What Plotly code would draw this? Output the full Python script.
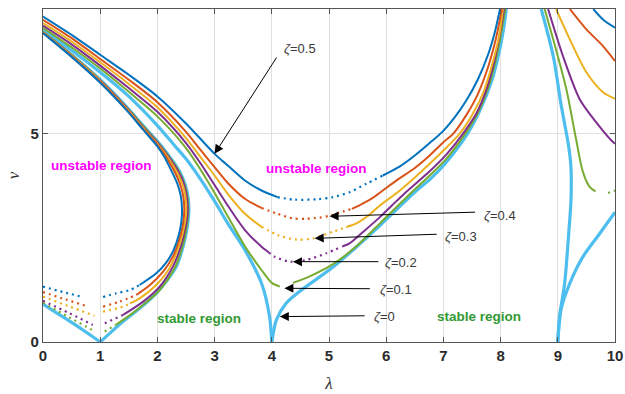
import plotly.graph_objects as go

# ---------------- colours (one per damping ratio) ----------------
C05, C04, C03, C02, C01, C00 = "#0072BD", "#D95319", "#EDB120", "#7E2F8E", "#77AC30", "#4DBEEE"

# ---------------- zeta = 0 (undamped transition curves) ----------------
z00_b1_lam = [0, 0.25, 0.5, 0.75, 1]
z00_b1_nu = [0.91, 0.69, 0.47, 0.24, 0]
z00_a1_lam = [1, 1.2, 1.4, 1.7, 1.98, 2.18, 2.33, 2.45, 2.52, 2.55, 2.52, 2.44, 2.32, 2.16, 2.0, 1.75, 1.46, 1.0, 0.5, 0]
z00_a1_nu = [0, 0.25, 0.49, 0.82, 1.17, 1.5, 1.81, 2.3, 2.75, 3.2, 3.6, 3.95, 4.25, 4.55, 4.82, 5.2, 5.65, 6.3, 6.9, 7.46]
z00_b2_lam = [4, 3.96, 3.82, 3.53, 3.23, 2.97, 2.7, 2.5, 2.3, 2.0, 1.5, 1.0, 0.5, 0]
z00_b2_nu = [0, 0.62, 1.41, 2.21, 2.85, 3.45, 4.02, 4.4, 4.72, 5.2, 5.9, 6.48, 7.01, 7.5]
z00_a2_lam = [4, 4.08, 4.25, 4.49, 5.07, 5.89, 6.53, 6.76, 7.05, 7.42, 7.65, 7.85, 7.98, 8.06, 8.1]
z00_a2_nu = [0, 0.53, 0.93, 1.22, 1.8, 2.8, 3.64, 3.9, 4.32, 5.0, 5.6, 6.3, 7.0, 7.6, 8.0]
z00_b3_lam = [9, 9.03, 9.12, 9.19, 9.23, 9.23, 9.19, 9.06, 8.92, 8.71]
z00_b3_nu = [0, 0.61, 1.41, 2.6, 3.4, 4.2, 4.7, 5.68, 6.87, 8.0]
z00_a3_lam = [9, 9.06, 9.21, 9.44, 9.73, 10]
z00_a3_nu = [0, 0.8, 1.41, 2.05, 2.6, 3.12]

# ---------------- zeta = 0.1 ----------------
z01_t1L_lam = [0, 0.45, 0.87]
z01_t1L_nu = [0.94, 0.6, 0.28]
z01_t1Rd_lam = [1.08, 1.28]
z01_t1Rd_nu = [0.25, 0.42]
z01_t1R_lam = [1.28, 1.4, 1.75, 2.04, 2.3, 2.44, 2.51, 2.54, 2.51, 2.43, 2.31, 2.15, 2.0, 1.75, 1.46, 1.0, 0.5, 0]
z01_t1R_nu = [0.42, 0.53, 0.89, 1.25, 1.77, 2.3, 2.75, 3.2, 3.6, 3.95, 4.25, 4.55, 4.81, 5.19, 5.64, 6.29, 6.9, 7.45]
z01_t2L_lam = [0, 0.5, 1, 1.5, 2, 2.5, 2.75, 3.0, 3.23, 3.53, 3.82, 4.0, 4.14]
z01_t2L_nu = [7.55, 7.08, 6.57, 6.01, 5.42, 4.66, 4.15, 3.58, 3.02, 2.3, 1.73, 1.42, 1.33]
z01_t2R_lam = [4.37, 4.49, 4.7, 5.07, 5.48, 5.89, 6.41, 6.76, 7.05, 7.38, 7.6, 7.78, 7.92, 8.02, 8.08]
z01_t2R_nu = [1.42, 1.48, 1.6, 1.87, 2.3, 2.85, 3.55, 4.0, 4.4, 5.0, 5.5, 6.1, 6.8, 7.5, 8.0]
z01_t3_lam = [8.77, 9.0, 9.15, 9.32, 9.44, 9.56, 9.66]
z01_t3_nu = [8.0, 6.87, 6.07, 4.87, 4.08, 3.72, 3.62]
z01_t3d_lam = [9.88, 10]
z01_t3d_nu = [3.58, 3.64]

# ---------------- zeta = 0.2 ----------------
z02_t1L_lam = [0, 0.45, 0.87]
z02_t1L_nu = [0.99, 0.7, 0.41]
z02_t1Rd_lam = [1.08, 1.4]
z02_t1Rd_nu = [0.45, 0.65]
z02_t1R_lam = [1.4, 1.75, 2.04, 2.27, 2.41, 2.49, 2.53, 2.51, 2.45, 2.35, 2.22, 2.1, 2.0, 1.75, 1.46, 1.0, 0.5, 0]
z02_t1R_nu = [0.65, 0.97, 1.33, 1.81, 2.3, 2.75, 3.15, 3.52, 3.85, 4.13, 4.4, 4.62, 4.79, 5.17, 5.63, 6.28, 6.89, 7.44]
z02_t2L_lam = [0, 0.5, 1, 1.5, 2, 2.5, 2.75, 3.0, 3.23, 3.53, 3.82, 3.95]
z02_t2L_nu = [7.6, 7.15, 6.64, 6.1, 5.53, 4.78, 4.3, 3.77, 3.28, 2.69, 2.29, 2.15]
z02_t2d_lam = [3.95, 4.05, 4.31, 4.6, 4.95, 5.24]
z02_t2d_nu = [2.15, 2.05, 1.93, 1.97, 2.13, 2.3]
z02_t2R_lam = [5.24, 5.36, 5.6, 5.89, 6.1, 6.32, 6.76, 7.05, 7.34, 7.58, 7.76, 7.9, 8.0, 8.06]
z02_t2R_nu = [2.3, 2.37, 2.65, 3.0, 3.28, 3.57, 4.1, 4.5, 5.0, 5.5, 6.1, 6.8, 7.5, 8.0]
z02_t3_lam = [8.83, 9.09, 9.38, 9.67, 9.91, 10]
z02_t3_nu = [8.0, 6.87, 5.84, 5.28, 4.88, 4.76]

# ---------------- zeta = 0.3 ----------------
z03_t1L_lam = [0, 0.45, 0.9]
z03_t1L_nu = [1.09, 0.86, 0.63]
z03_t1Rd_lam = [1.05, 1.4, 1.52]
z03_t1Rd_nu = [0.73, 0.85, 0.93]
z03_t1R_lam = [1.52, 1.69, 1.98, 2.2, 2.35, 2.45, 2.5, 2.5, 2.46, 2.38, 2.27, 2.14, 2.0, 1.75, 1.46, 1.0, 0.5, 0]
z03_t1R_nu = [0.93, 1.05, 1.37, 1.75, 2.2, 2.65, 3.05, 3.38, 3.7, 3.98, 4.25, 4.52, 4.76, 5.15, 5.61, 6.27, 6.88, 7.44]
z03_t2L_lam = [0, 0.5, 1, 1.5, 2, 2.5, 2.75, 3.0, 3.23, 3.53, 3.82]
z03_t2L_nu = [7.66, 7.22, 6.72, 6.2, 5.64, 4.9, 4.45, 4.0, 3.56, 3.08, 2.77]
z03_t2d_lam = [3.82, 4.1, 4.43, 4.72, 5.07, 5.3]
z03_t2d_nu = [2.77, 2.57, 2.46, 2.49, 2.65, 2.76]
z03_t2R_lam = [5.3, 5.48, 5.7, 5.89, 6.24, 6.5, 6.76, 7.0, 7.28, 7.5, 7.7, 7.86, 7.98, 8.04]
z03_t2R_nu = [2.76, 2.85, 3.05, 3.28, 3.64, 3.95, 4.28, 4.6, 5.0, 5.45, 6.0, 6.7, 7.4, 8.0]
z03_t3_lam = [8.97, 9.21, 9.5, 9.79, 10]
z03_t3_nu = [8.0, 7.27, 6.48, 6.0, 5.84]

# ---------------- zeta = 0.4 ----------------
z04_t1L_lam = [0, 0.4, 0.79]
z04_t1L_nu = [1.2, 1.02, 0.85]
z04_t1Rd_lam = [1.05, 1.34, 1.63]
z04_t1Rd_nu = [0.85, 0.97, 1.13]
z04_t1R_lam = [1.63, 1.87, 2.1, 2.27, 2.38, 2.45, 2.47, 2.45, 2.39, 2.29, 2.15, 2.0, 1.75, 1.46, 1.0, 0.5, 0]
z04_t1R_nu = [1.13, 1.37, 1.69, 2.05, 2.45, 2.85, 3.2, 3.52, 3.82, 4.12, 4.45, 4.73, 5.12, 5.59, 6.25, 6.86, 7.43]
z04_t2L_lam = [0, 0.5, 1, 1.5, 2, 2.5, 2.75, 3.0, 3.23, 3.53, 3.82]
z04_t2L_nu = [7.74, 7.3, 6.8, 6.3, 5.76, 5.05, 4.62, 4.2, 3.82, 3.44, 3.22]
z04_t2d_lam = [3.82, 4.1, 4.37, 4.6, 4.84, 5.0, 5.24, 5.4]
z04_t2d_nu = [3.22, 3.08, 2.97, 2.96, 2.99, 3.03, 3.13, 3.2]
z04_t2R_lam = [5.4, 5.54, 5.75, 5.94, 6.2, 6.5, 6.76, 7.0, 7.17, 7.4, 7.6, 7.78, 7.92, 8.02]
z04_t2R_nu = [3.2, 3.29, 3.45, 3.64, 3.9, 4.18, 4.48, 4.8, 5.0, 5.45, 5.95, 6.6, 7.3, 8.0]
z04_t3_lam = [9.21, 9.5, 9.79, 10]
z04_t3_nu = [8.0, 7.51, 7.11, 6.75]

# ---------------- zeta = 0.5 ----------------
z05_t1L_lam = [0, 0.35, 0.7]
z05_t1L_nu = [1.33, 1.2, 1.08]
z05_t1Rd_lam = [1.05, 1.28, 1.52, 1.69]
z05_t1Rd_nu = [1.08, 1.17, 1.25, 1.37]
z05_t1R_lam = [1.69, 1.98, 2.15, 2.28, 2.37, 2.42, 2.43, 2.41, 2.35, 2.25, 2.12, 2.0, 1.75, 1.46, 1.0, 0.5, 0]
z05_t1R_nu = [1.37, 1.65, 1.9, 2.2, 2.55, 2.9, 3.2, 3.5, 3.8, 4.1, 4.45, 4.7, 5.1, 5.57, 6.23, 6.85, 7.42]
z05_t2L_lam = [0, 0.5, 1, 1.5, 2, 2.5, 3.0, 3.23, 3.53, 3.82, 4.1]
z05_t2L_nu = [7.82, 7.38, 6.9, 6.42, 5.9, 5.25, 4.52, 4.24, 3.88, 3.64, 3.48]
z05_t2d_lam = [4.1, 4.4, 4.81, 5.07, 5.36, 5.65, 5.94]
z05_t2d_nu = [3.48, 3.42, 3.43, 3.48, 3.6, 3.8, 4.0]
z05_t2R_lam = [5.94, 6.24, 6.5, 6.76, 6.99, 7.2, 7.4, 7.6, 7.78, 7.9, 7.99]
z05_t2R_nu = [4.0, 4.22, 4.48, 4.78, 5.06, 5.4, 5.8, 6.3, 6.9, 7.45, 8.0]
z05_t3_lam = [9.62, 9.79, 10]
z05_t3_nu = [8.0, 7.75, 7.55]

# ---------------- annotations ----------------
zeta_labels = ["<i>ζ</i>=0.5", "<i>ζ</i>=0.4", "<i>ζ</i>=0.3", "<i>ζ</i>=0.2", "<i>ζ</i>=0.1", "<i>ζ</i>=0"]
label_lam = [4.18, 7.67, 6.99, 5.94, 5.85, 5.76]
label_nu = [7.06, 3.05, 2.53, 1.9, 1.25, 0.61]
arrow_tail_lam = [4.10, 7.58, 6.91, 5.89, 5.74, 5.65]
arrow_tail_nu = [6.87, 3.12, 2.59, 1.93, 1.28, 0.63]
arrow_tip_lam = [3.0, 5.01, 4.75, 4.37, 4.22, 4.14]
arrow_tip_nu = [4.52, 3.02, 2.49, 1.93, 1.29, 0.61]

region_text = ["unstable region", "unstable region", "stable region", "stable region"]
region_lam = [1.02, 4.79, 2.73, 7.62]
region_nu = [4.24, 4.16, 0.57, 0.61]
region_color = ["#FF00FF", "#FF00FF", "#339933", "#339933"]

x_ticks = list(range(0, 11))
y_ticks = [0, 5]

fig = go.Figure()

DOTS = "2px,4px"


def add(lam, nu, color, width=2.0, dash="solid"):
    fig.add_trace(go.Scatter(x=lam, y=nu, mode="lines",
                             line=dict(color=color, width=width, dash=dash, shape="spline", smoothing=0.8),
                             showlegend=False, hoverinfo="skip"))


# undamped first (underneath)
for lam, nu in [(z00_b1_lam, z00_b1_nu), (z00_a1_lam, z00_a1_nu), (z00_b2_lam, z00_b2_nu),
                (z00_a2_lam, z00_a2_nu), (z00_b3_lam, z00_b3_nu), (z00_a3_lam, z00_a3_nu)]:
    add(lam, nu, C00, 3.2)

# zeta = 0.1
add(z01_t1L_lam, z01_t1L_nu, C01, 2.2, DOTS)
add(z01_t1Rd_lam, z01_t1Rd_nu, C01, 2.2, DOTS)
add(z01_t1R_lam, z01_t1R_nu, C01)
add(z01_t2L_lam, z01_t2L_nu, C01)
add(z01_t2R_lam, z01_t2R_nu, C01)
add(z01_t3_lam, z01_t3_nu, C01)
add(z01_t3d_lam, z01_t3d_nu, C01, 2.2, DOTS)

# zeta = 0.2
add(z02_t1L_lam, z02_t1L_nu, C02, 2.2, DOTS)
add(z02_t1Rd_lam, z02_t1Rd_nu, C02, 2.2, DOTS)
add(z02_t1R_lam, z02_t1R_nu, C02)
add(z02_t2L_lam, z02_t2L_nu, C02)
add(z02_t2d_lam, z02_t2d_nu, C02, 2.2, DOTS)
add(z02_t2R_lam, z02_t2R_nu, C02)
add(z02_t3_lam, z02_t3_nu, C02)

# zeta = 0.3
add(z03_t1L_lam, z03_t1L_nu, C03, 2.2, DOTS)
add(z03_t1Rd_lam, z03_t1Rd_nu, C03, 2.2, DOTS)
add(z03_t1R_lam, z03_t1R_nu, C03)
add(z03_t2L_lam, z03_t2L_nu, C03)
add(z03_t2d_lam, z03_t2d_nu, C03, 2.2, DOTS)
add(z03_t2R_lam, z03_t2R_nu, C03)
add(z03_t3_lam, z03_t3_nu, C03)

# zeta = 0.4
add(z04_t1L_lam, z04_t1L_nu, C04, 2.2, DOTS)
add(z04_t1Rd_lam, z04_t1Rd_nu, C04, 2.2, DOTS)
add(z04_t1R_lam, z04_t1R_nu, C04)
add(z04_t2L_lam, z04_t2L_nu, C04)
add(z04_t2d_lam, z04_t2d_nu, C04, 2.2, DOTS)
add(z04_t2R_lam, z04_t2R_nu, C04)
add(z04_t3_lam, z04_t3_nu, C04)

# zeta = 0.5
add(z05_t1L_lam, z05_t1L_nu, C05, 2.2, DOTS)
add(z05_t1Rd_lam, z05_t1Rd_nu, C05, 2.2, DOTS)
add(z05_t1R_lam, z05_t1R_nu, C05)
add(z05_t2L_lam, z05_t2L_nu, C05)
add(z05_t2d_lam, z05_t2d_nu, C05, 2.2, DOTS)
add(z05_t2R_lam, z05_t2R_nu, C05)
add(z05_t3_lam, z05_t3_nu, C05)

annotations = []
for i in range(len(zeta_labels)):
    annotations.append(dict(x=arrow_tip_lam[i], y=arrow_tip_nu[i], ax=arrow_tail_lam[i], ay=arrow_tail_nu[i],
                            xref="x", yref="y", axref="x", ayref="y", text="", showarrow=True,
                            arrowhead=2, arrowsize=1.8, arrowwidth=1, arrowcolor="black"))
    annotations.append(dict(x=label_lam[i], y=label_nu[i], xref="x", yref="y", text=zeta_labels[i],
                            showarrow=False, xanchor="left", yanchor="middle",
                            font=dict(family="Liberation Sans, Arial", size=13, color="#3a3a3a")))
for i in range(len(region_text)):
    annotations.append(dict(x=region_lam[i], y=region_nu[i], xref="x", yref="y", text=region_text[i],
                            showarrow=False, xanchor="center", yanchor="middle",
                            font=dict(family="Liberation Sans, Arial", size=13.5, color=region_color[i],
                                      weight="bold")))

fig.update_layout(
    width=625, height=394,
    margin=dict(l=43, r=10, t=9, b=52),
    paper_bgcolor="white", plot_bgcolor="white",
    annotations=annotations,
    xaxis=dict(range=[0, 10], tickvals=x_ticks, ticktext=[str(v) for v in x_ticks], automargin=False,
               showgrid=True, gridcolor="#e0e0e0", gridwidth=1, zeroline=False,
               showline=True, linecolor="#555555", linewidth=1.2, mirror="ticks",
               ticks="inside", ticklen=5, tickcolor="#555555",
               tickfont=dict(family="Liberation Sans, Arial", size=15, color="#2b2b2b", weight="bold"),
               title=dict(text="<i>λ</i>", font=dict(family="Liberation Serif, DejaVu Serif", size=17, color="#2b2b2b"),
                          standoff=14)),
    yaxis=dict(range=[0, 8], tickvals=y_ticks, ticktext=[str(v) for v in y_ticks], automargin=False,
               showgrid=True, gridcolor="#e0e0e0", gridwidth=1, zeroline=False,
               showline=True, linecolor="#555555", linewidth=1.2, mirror="ticks",
               ticks="inside", ticklen=5, tickcolor="#555555",
               tickfont=dict(family="Liberation Sans, Arial", size=15, color="#2b2b2b", weight="bold"),
               title=dict(text="<i>ν</i>", font=dict(family="Liberation Serif, DejaVu Serif", size=17, color="#2b2b2b"),
                          standoff=6)),
)

# remove the default page margin so the 625x394 figure fills the window exactly
fig.write_html("out.html", config={"displayModeBar": False},
               post_script="document.body.style.margin='0px';document.body.style.overflow='hidden';")
